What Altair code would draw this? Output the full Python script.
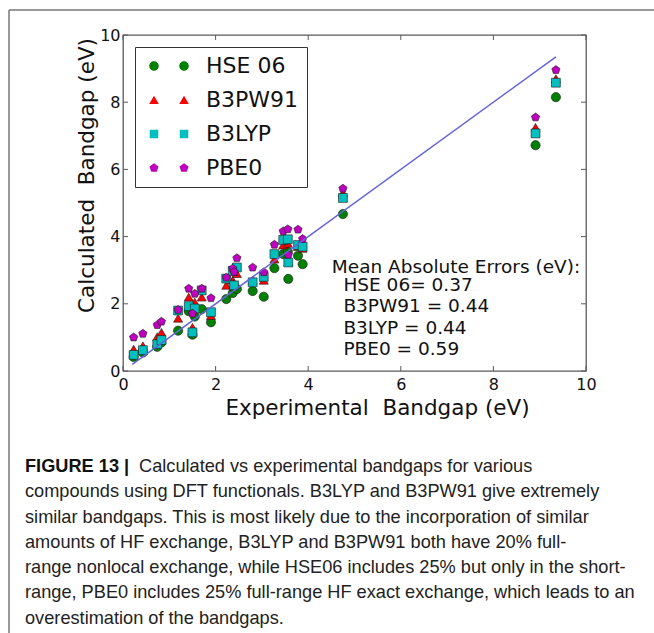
import altair as alt
import pandas as pd

# ---------------- data ----------------
series_names = ["HSE 06", "B3PW91", "B3LYP", "PBE0"]
series_colors = ["#008000", "#ff0000", "#00bfbf", "#bf00bf"]

experimental = [0.23, 0.43, 0.74, 0.83, 1.19, 1.42, 1.50, 1.55, 1.70, 1.90,
                2.23, 2.37, 2.40, 2.46, 2.80, 3.04, 3.27, 3.46, 3.56, 3.57,
                3.78, 3.88, 4.75, 8.91, 9.35]
hse06 = [0.42, 0.55, 0.72, 0.85, 1.20, 1.78, 1.08, 1.62, 1.84, 1.45,
         2.14, 2.32, 2.48, 2.44, 2.38, 2.21, 3.06, 3.48, 3.55, 2.74,
         3.43, 3.18, 4.67, 6.72, 8.15]
b3pw91 = [0.65, 0.75, 1.02, 1.15, 1.57, 2.20, 1.30, 2.05, 2.20, 1.65,
          2.55, 2.70, 2.60, 2.90, 2.70, 2.70, 3.33, 3.75, 3.80, 3.25,
          3.70, 3.65, 5.30, 7.25, 8.70]
b3lyp = [0.48, 0.62, 0.80, 0.92, 1.80, 1.93, 1.15, 1.86, 2.40, 1.75,
         2.75, 2.98, 2.55, 3.08, 2.64, 2.80, 3.48, 3.90, 3.92, 3.23,
         3.75, 3.70, 5.15, 7.07, 8.58]
pbe0 = [1.00, 1.11, 1.37, 1.47, 1.82, 2.45, 1.71, 2.30, 2.45, 2.17,
        2.78, 3.05, 2.95, 3.36, 3.08, 2.94, 3.76, 4.16, 4.22, 3.46,
        4.21, 3.93, 5.43, 7.55, 8.96]

ideal_x = [0.2, 9.35]
axis_ticks = [0, 2, 4, 6, 8, 10]

x_title = "Experimental\u00a0\u00a0Bandgap (eV)"
y_title = "Calculated\u00a0\u00a0Bandgap (eV)"

mae_title = "Mean Absolute Errors (eV):"
mae_lines = ["HSE 06= 0.37", "B3PW91 = 0.44", "B3LYP = 0.44", "PBE0 = 0.59"]

caption_bold = "FIGURE 13 |"
caption_first = "Calculated vs experimental bandgaps for various"
caption_rest = [
    "compounds using DFT functionals. B3LYP and B3PW91 give extremely",
    "similar bandgaps. This is most likely due to the incorporation of similar",
    "amounts of HF exchange, B3LYP and B3PW91 both have 20% full-",
    "range nonlocal exchange, while HSE06 includes 25% but only in the short-",
    "range, PBE0 includes 25% full-range HF exact exchange, which leads to an",
    "overestimation of the bandgaps.",
]

# ---------------- tables ----------------
rows = []
for name, vals in zip(series_names, [hse06, b3pw91, b3lyp, pbe0]):
    for ex, c in zip(experimental, vals):
        rows.append({"exp": ex, "calc": c, "series": name})
df = pd.DataFrame(rows)
line_df = pd.DataFrame({"exp": ideal_x, "calc": ideal_x})
tick_df = pd.DataFrame({"exp": axis_ticks, "calc": axis_ticks})
one = pd.DataFrame({"a": [0]})

W, H = 463, 336
FONT = "DejaVu Sans"
FRAME = "#5a5a5a"

xs = alt.Scale(domain=[0, 10], nice=False, zero=False)
ys = alt.Scale(domain=[0, 10], nice=False, zero=False)

ax_x = alt.Axis(values=axis_ticks, ticks=False, domain=False, grid=False,
                labelFont=FONT, labelFontSize=16, labelColor="#111",
                labelPadding=5, labelFlush=False,
                title=x_title, titleFont=FONT,
                titleFontSize=21.5, titleFontWeight="normal",
                titleColor="#111", titleBaseline="alphabetic", titleAlign="center",
                titleX=254, titleY=43)
ax_y = alt.Axis(values=axis_ticks, ticks=False, domain=False, grid=False,
                labelFont=FONT, labelFontSize=16, labelColor="#111",
                labelPadding=3, labelFlush=False,
                title=y_title, titleFont=FONT,
                titleFontSize=21.5, titleFontWeight="normal",
                titleColor="#111", titleAngle=270, titleAlign="center",
                titleBaseline="middle", titleX=-36, titleY=140)


def X(field="exp:Q"):
    return alt.X(field, scale=xs, axis=ax_x)


def Y(field="calc:Q"):
    return alt.Y(field, scale=ys, axis=ax_y)


pent = "M0,-1L0.951,-0.309L0.588,0.809L-0.588,0.809L-0.951,-0.309Z"


def shifted_pent(dx):
    pts = [(0, -1), (0.951, -0.309), (0.588, 0.809), (-0.588, 0.809), (-0.951, -0.309)]
    return "M" + "L".join(f"{x + dx:.3f},{y:.3f}" for x, y in pts) + "Z"


D = 6.33
legend_shapes = [
    f"M1,0A1,1,0,1,1,-1,0A1,1,0,1,1,1,0Z M{D+1},0A1,1,0,1,1,{D-1},0A1,1,0,1,1,{D+1},0Z",
    f"M0,-0.9L1,0.85L-1,0.85Z M{D},-0.9L{D+1},0.85L{D-1},0.85Z",
    f"M-0.9,-0.9H0.9V0.9H-0.9Z M{D-0.9:.2f},-0.9H{D+0.9:.2f}V0.9H{D-0.9:.2f}Z",
    shifted_pent(0) + " " + shifted_pent(D),
]

# ---------------- layers ----------------
ideal = alt.Chart(line_df).mark_line(color="#6464dc", strokeWidth=1.5).encode(
    x=X(), y=Y())

points = alt.Chart(df).mark_point(filled=True, opacity=1, stroke="#1a1a1a",
                                   strokeWidth=0.6).encode(
    x=X(), y=Y(),
    color=alt.Color("series:N", scale=alt.Scale(domain=series_names, range=series_colors),
                    legend=None),
    shape=alt.Shape("series:N", scale=alt.Scale(domain=series_names,
                                                range=["circle", "triangle-up", "square", pent]),
                    legend=None),
    size=alt.Size("series:N", scale=alt.Scale(domain=series_names, range=[85, 75, 78, 90]),
                  legend=None),
)

leg = alt.Legend(title=None, orient="none", legendX=12, legendY=12,
                 labelFont=FONT, labelFontSize=22, labelColor="#111", labelLimit=300,
                 symbolSize=90, symbolStrokeWidth=0.5, symbolStrokeColor="#1a1a1a",
                 symbolOpacity=1, labelOffset=41, padding=8, rowPadding=12,
                 strokeColor="#333", fillColor="white")

legend_layer = alt.Chart(df).transform_filter("false").mark_point(
    filled=True, opacity=1, stroke="#1a1a1a", strokeWidth=0.5).encode(
    x=X(), y=Y(),
    color=alt.Color("series:N", scale=alt.Scale(domain=series_names, range=series_colors),
                    legend=leg),
    shape=alt.Shape("series:N", scale=alt.Scale(domain=series_names, range=legend_shapes),
                    legend=leg),
)

# inward ticks on all four sides
tick_style = dict(color=FRAME, strokeWidth=1)
tb = alt.Chart(tick_df).mark_rule(**tick_style).encode(
    x=X(), y=alt.value(H), y2=alt.value(H - 5))
tt = alt.Chart(tick_df).mark_rule(**tick_style).encode(
    x=X(), y=alt.value(0), y2=alt.value(5))
tl = alt.Chart(tick_df).mark_rule(**tick_style).encode(
    y=Y(), x=alt.value(0), x2=alt.value(5))
tr = alt.Chart(tick_df).mark_rule(**tick_style).encode(
    y=Y(), x=alt.value(W), x2=alt.value(W - 5))

# annotation
mae_head = alt.Chart(one).mark_text(text=mae_title, font=FONT, fontSize=18.5, color="#111",
                                    align="left", baseline="middle").encode(
    x=alt.X(datum=4.51, scale=xs, axis=ax_x), y=alt.Y(datum=3.11, scale=ys, axis=ax_y))
mae_body = alt.Chart(one).mark_text(text=mae_lines, font=FONT, fontSize=18.5, color="#111",
                                    align="left", baseline="top", lineHeight=21.5).encode(
    x=alt.X(datum=4.76, scale=xs, axis=ax_x), y=alt.Y(datum=2.84, scale=ys, axis=ax_y))

# caption
CAP = "Liberation Sans"
CAPSZ = 18.2
cap_b = alt.Chart(one).mark_text(text=caption_bold, font=CAP, fontSize=CAPSZ, fontWeight="bold",
                                 color="#111", align="left", baseline="alphabetic").encode(
    x=alt.value(-98), y=alt.value(437))
cap_1 = alt.Chart(one).mark_text(text=caption_first, font=CAP, fontSize=CAPSZ, color="#222",
                                 align="left", baseline="alphabetic").encode(
    x=alt.value(16), y=alt.value(437))
cap_r = alt.Chart(one).mark_text(text=caption_rest, font=CAP, fontSize=CAPSZ, color="#222",
                                 align="left", baseline="alphabetic", lineHeight=25.3).encode(
    x=alt.value(-98), y=alt.value(462.3))

# outer figure frame (top and left edges)
frame_top = alt.Chart(one).mark_rule(color="#777", strokeWidth=1.5).encode(
    x=alt.value(-114), x2=alt.value(531), y=alt.value(-25))
frame_left = alt.Chart(one).mark_rule(color="#777", strokeWidth=1.5).encode(
    x=alt.value(-114), y=alt.value(-25), y2=alt.value(598))

chart = alt.layer(
    points, frame_top, frame_left, ideal, tb, tt, tl, tr, legend_layer,
    mae_head, mae_body, cap_b, cap_1, cap_r,
).resolve_scale(color="independent", shape="independent").properties(
    width=W, height=H,
    autosize=alt.AutoSizeParams(type="none"),
    padding={"left": 123, "top": 35, "right": 68, "bottom": 262},
    background="white",
).configure_view(stroke=FRAME, strokeWidth=1.3)

chart.save("out.html", embed_options={"renderer": "svg", "actions": False})
